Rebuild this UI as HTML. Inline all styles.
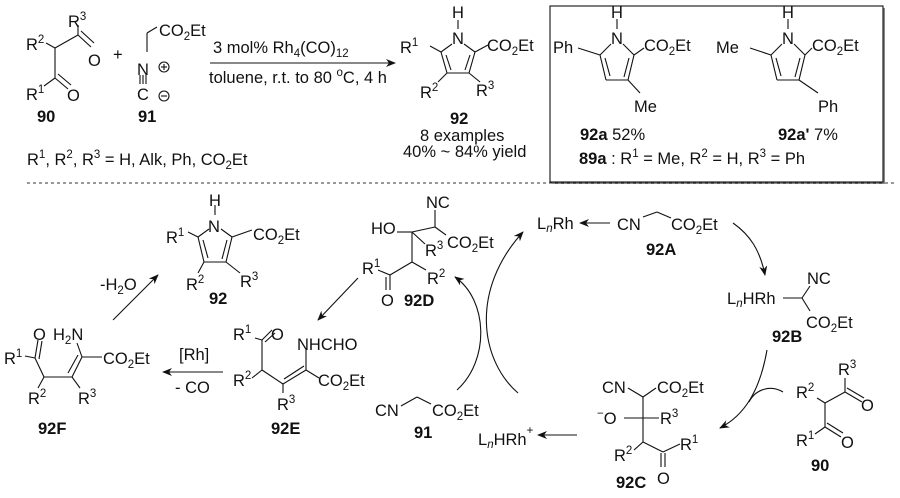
<!DOCTYPE html>
<html><head><meta charset="utf-8"><style>
html,body{margin:0;padding:0;background:#fff}
svg{display:block}
text{font-family:"Liberation Sans",Arial,sans-serif;font-size:16.5px;fill:#111}
.b{font-weight:bold}
.s{font-size:11.5px}
</style></head><body>
<svg width="900" height="498" viewBox="0 0 900 498" xmlns="http://www.w3.org/2000/svg">
<defs>
<marker id="ah" markerWidth="10" markerHeight="8" refX="9" refY="4" orient="auto" markerUnits="userSpaceOnUse">
<path d="M0,0 L10,4 L0,8 L3,4 z" fill="#111"/></marker>
</defs>
<g stroke="#111" stroke-width="1.1" fill="none">
<line x1="46" y1="43" x2="55" y2="48"/><line x1="55" y1="48" x2="78" y2="35"/><line x1="78" y1="35" x2="78" y2="25"/>
<line x1="78" y1="35" x2="91" y2="47"/><line x1="81" y1="31" x2="94" y2="43"/>
<line x1="55" y1="48" x2="55" y2="78"/><line x1="55" y1="78" x2="44" y2="86"/>
<line x1="55" y1="78" x2="68" y2="89"/><line x1="58" y1="74" x2="71" y2="85"/>
<line x1="147" y1="33" x2="157" y2="27"/><line x1="147" y1="33" x2="147" y2="52"/>
<line x1="143" y1="75" x2="143" y2="84"/><line x1="140" y1="75" x2="140" y2="84"/><line x1="146" y1="75" x2="146" y2="84"/>
<circle cx="164" cy="67" r="5"/><line x1="161" y1="67" x2="167" y2="67"/><line x1="164" y1="64" x2="164" y2="70"/>
<circle cx="164" cy="96" r="5"/><line x1="161" y1="96" x2="167" y2="96"/>
<line x1="210" y1="63" x2="395" y2="63" marker-end="url(#ah)"/>
<line x1="458" y1="20" x2="458" y2="29"/>
<line x1="452" y1="44" x2="441" y2="52"/><line x1="464" y1="44" x2="475" y2="52"/>
<line x1="441" y1="52" x2="447" y2="73"/><line x1="446" y1="55" x2="451" y2="70"/>
<line x1="447" y1="73" x2="469" y2="73"/><line x1="469" y1="73" x2="475" y2="52"/><line x1="465" y1="70" x2="470" y2="55"/>
<line x1="441" y1="52" x2="430" y2="46"/><line x1="475" y1="52" x2="488" y2="45"/>
<line x1="447" y1="73" x2="438" y2="82"/><line x1="469" y1="73" x2="480" y2="82"/>
<rect x="552" y="8" width="333" height="176" fill="#888" stroke="none"/>
<rect x="550" y="6" width="333" height="176" fill="#fff"/>
<line x1="617" y1="19" x2="617" y2="29"/>
<line x1="611" y1="44" x2="600" y2="55"/><line x1="623" y1="44" x2="634" y2="55"/>
<line x1="600" y1="55" x2="606" y2="80"/><line x1="605" y1="58" x2="610" y2="76"/>
<line x1="606" y1="80" x2="628" y2="80"/><line x1="628" y1="80" x2="634" y2="55"/><line x1="624" y1="77" x2="629" y2="58"/>
<line x1="600" y1="55" x2="578" y2="48"/><line x1="634" y1="55" x2="644" y2="48"/>
<line x1="628" y1="80" x2="640" y2="93"/>
<line x1="788" y1="19" x2="788" y2="29"/>
<line x1="782" y1="44" x2="771" y2="55"/><line x1="794" y1="44" x2="805" y2="55"/>
<line x1="771" y1="55" x2="777" y2="80"/><line x1="776" y1="58" x2="781" y2="76"/>
<line x1="777" y1="80" x2="799" y2="80"/><line x1="799" y1="80" x2="805" y2="55"/><line x1="795" y1="77" x2="800" y2="58"/>
<line x1="771" y1="55" x2="750" y2="48"/><line x1="805" y1="55" x2="812" y2="48"/>
<line x1="799" y1="80" x2="818" y2="93"/>
</g>
<line x1="27" y1="183" x2="895" y2="183" stroke="#333" stroke-width="1" stroke-dasharray="3,3"/>

<text x="68" y="27">R<tspan class="s" dy="-7">3</tspan></text>
<text x="26" y="50">R<tspan class="s" dy="-7">2</tspan></text>
<text x="88" y="66">O</text>
<text x="26" y="100">R<tspan class="s" dy="-7">1</tspan></text>
<text x="67" y="101">O</text>
<text x="113" y="60">+</text>
<text x="159" y="36">CO<tspan class="s" dy="4">2</tspan><tspan dy="-4">Et</tspan></text>
<text x="137" y="75">N</text>
<text x="137" y="100">C</text>
<text class="b" x="37" y="122">90</text>
<text class="b" x="138" y="122">91</text>
<text x="27" y="165">R<tspan class="s" dy="-7">1</tspan><tspan dy="7">, R</tspan><tspan class="s" dy="-7">2</tspan><tspan dy="7">, R</tspan><tspan class="s" dy="-7">3</tspan><tspan dy="7"> = H, Alk, Ph, CO</tspan><tspan class="s" dy="4">2</tspan><tspan dy="-4">Et</tspan></text>
<text x="213" y="53">3 mol% Rh<tspan class="s" dy="4">4</tspan><tspan dy="-4">(CO)</tspan><tspan class="s" dy="4">12</tspan></text>
<text x="209" y="83">toluene, r.t. to 80 <tspan class="s" dy="-7">o</tspan><tspan dy="7">C, 4 h</tspan></text>
<text x="452" y="18">H</text>
<text x="452" y="44">N</text>
<text x="400" y="53">R<tspan class="s" dy="-7">1</tspan></text>
<text x="487" y="51">CO<tspan class="s" dy="4">2</tspan><tspan dy="-4">Et</tspan></text>
<text x="420" y="98">R<tspan class="s" dy="-7">2</tspan></text>
<text x="476" y="96">R<tspan class="s" dy="-7">3</tspan></text>
<text class="b" x="450" y="124">92</text>
<text x="420" y="141">8 examples</text>
<text x="403" y="157">40% ~ 84% yield</text>
<text x="611" y="18">H</text>
<text x="611" y="44">N</text>
<text x="553" y="53">Ph</text>
<text x="644" y="51">CO<tspan class="s" dy="4">2</tspan><tspan dy="-4">Et</tspan></text>
<text x="634" y="112">Me</text>
<text x="580" y="140"><tspan class="b">92a</tspan>  52%</text>
<text x="782" y="18">H</text>
<text x="782" y="44">N</text>
<text x="716" y="53">Me</text>
<text x="812" y="51">CO<tspan class="s" dy="4">2</tspan><tspan dy="-4">Et</tspan></text>
<text x="818" y="112">Ph</text>
<text x="778" y="140"><tspan class="b">92a'</tspan>  7%</text>
<text x="579" y="164"><tspan class="b">89a</tspan> : R<tspan class="s" dy="-7">1</tspan><tspan dy="7"> = Me, R</tspan><tspan class="s" dy="-7">2</tspan><tspan dy="7"> = H, R</tspan><tspan class="s" dy="-7">3</tspan><tspan dy="7"> = Ph</tspan></text>

<g stroke="#111" stroke-width="1.1" fill="none">
<line x1="215" y1="205" x2="215" y2="215"/>
<line x1="209" y1="229" x2="198" y2="237"/><line x1="221" y1="229" x2="232" y2="237"/>
<line x1="198" y1="237" x2="204" y2="262"/><line x1="203" y1="240" x2="208" y2="258"/>
<line x1="204" y1="262" x2="226" y2="262"/><line x1="226" y1="262" x2="232" y2="237"/><line x1="222" y1="259" x2="227" y2="240"/>
<line x1="198" y1="237" x2="188" y2="232"/><line x1="232" y1="237" x2="252" y2="230"/>
<line x1="204" y1="262" x2="198" y2="273"/><line x1="226" y1="262" x2="240" y2="273"/>
<line x1="113" y1="320" x2="158" y2="275" marker-end="url(#ah)"/>
<line x1="25" y1="356" x2="35" y2="358"/>
<line x1="35" y1="358" x2="38" y2="340"/><line x1="39" y1="359" x2="42" y2="341"/>
<line x1="35" y1="358" x2="44" y2="377"/><line x1="44" y1="377" x2="72" y2="377"/>
<line x1="72" y1="377" x2="82" y2="357"/><line x1="68" y1="373" x2="78" y2="355"/>
<line x1="82" y1="357" x2="77" y2="343"/><line x1="82" y1="357" x2="102" y2="357"/>
<line x1="44" y1="377" x2="38" y2="388"/><line x1="72" y1="377" x2="80" y2="388"/>
<line x1="223" y1="372" x2="163" y2="372" marker-end="url(#ah)"/>
<line x1="262" y1="340" x2="255" y2="338"/><line x1="262" y1="340" x2="272" y2="330"/><line x1="265" y1="342" x2="275" y2="333"/>
<line x1="262" y1="340" x2="262" y2="370"/><line x1="262" y1="370" x2="252" y2="378"/>
<line x1="262" y1="370" x2="283" y2="384"/><line x1="283" y1="384" x2="306" y2="370"/><line x1="284" y1="379" x2="304" y2="366"/>
<line x1="306" y1="370" x2="306" y2="350"/><line x1="306" y1="370" x2="319" y2="378"/>
<line x1="283" y1="384" x2="283" y2="393"/>
<line x1="358" y1="278" x2="318" y2="320" marker-end="url(#ah)"/>
<line x1="397" y1="232" x2="412" y2="232"/><line x1="412" y1="232" x2="435" y2="227"/>
<line x1="435" y1="227" x2="435" y2="210"/><line x1="435" y1="227" x2="446" y2="235"/>
<line x1="412" y1="232" x2="425" y2="244"/>
<line x1="412" y1="232" x2="412" y2="262"/><line x1="412" y1="262" x2="426" y2="270"/>
<line x1="412" y1="262" x2="390" y2="275"/><line x1="390" y1="275" x2="378" y2="270"/>
<line x1="390" y1="275" x2="390" y2="290"/><line x1="386" y1="277" x2="386" y2="290"/>
<line x1="401" y1="406" x2="417" y2="397"/><line x1="417" y1="397" x2="431" y2="404"/>
<path d="M457,390 C490,360 488,300 455,277" marker-end="url(#ah)"/>
<path d="M518,393 C480,360 470,290 523,232" marker-end="url(#ah)"/>
<line x1="610" y1="223" x2="580" y2="223" marker-end="url(#ah)"/>
<line x1="643" y1="217" x2="657" y2="212"/><line x1="657" y1="212" x2="671" y2="218"/>
<path d="M733,223 C750,235 760,250 765,275" marker-end="url(#ah)"/>
<line x1="783" y1="298" x2="802" y2="298"/><line x1="802" y1="298" x2="810" y2="286"/><line x1="802" y1="298" x2="810" y2="311"/>
<path d="M767,350 C760,390 745,415 720,428" marker-end="url(#ah)"/>
<path d="M783,392 C770,384 755,390 749,402"/>
<line x1="817" y1="398" x2="825" y2="403"/><line x1="825" y1="403" x2="845" y2="392"/><line x1="845" y1="392" x2="845" y2="378"/>
<line x1="845" y1="392" x2="862" y2="402"/><line x1="847" y1="388" x2="864" y2="398"/>
<line x1="825" y1="403" x2="825" y2="427"/><line x1="825" y1="427" x2="815" y2="434"/>
<line x1="825" y1="427" x2="841" y2="437"/><line x1="827" y1="423" x2="843" y2="433"/>
<line x1="628" y1="388" x2="643" y2="397"/><line x1="643" y1="397" x2="656" y2="388"/>
<line x1="643" y1="397" x2="643" y2="442"/><line x1="624" y1="418" x2="659" y2="418"/>
<line x1="643" y1="442" x2="634" y2="450"/><line x1="643" y1="442" x2="663" y2="452"/>
<line x1="663" y1="452" x2="680" y2="444"/>
<line x1="661" y1="453" x2="661" y2="467"/><line x1="665" y1="453" x2="665" y2="467"/>
<line x1="577" y1="435" x2="538" y2="435" marker-end="url(#ah)"/>
</g>

<text x="209" y="206">H</text>
<text x="208" y="232">N</text>
<text x="166" y="243">R<tspan class="s" dy="-7">1</tspan></text>
<text x="253" y="240">CO<tspan class="s" dy="4">2</tspan><tspan dy="-4">Et</tspan></text>
<text x="186" y="290">R<tspan class="s" dy="-7">2</tspan></text>
<text x="240" y="287">R<tspan class="s" dy="-7">3</tspan></text>
<text class="b" x="209" y="304">92</text>
<text x="100" y="290">-H<tspan class="s" dy="4">2</tspan><tspan dy="-4">O</tspan></text>
<text x="33" y="340">O</text>
<text x="53" y="340">H<tspan class="s" dy="4">2</tspan><tspan dy="-4">N</tspan></text>
<text x="4" y="364">R<tspan class="s" dy="-7">1</tspan></text>
<text x="103" y="364">CO<tspan class="s" dy="4">2</tspan><tspan dy="-4">Et</tspan></text>
<text x="28" y="404">R<tspan class="s" dy="-7">2</tspan></text>
<text x="78" y="404">R<tspan class="s" dy="-7">3</tspan></text>
<text class="b" x="38" y="434">92F</text>
<text x="179" y="360">[Rh]</text>
<text x="175" y="393">- CO</text>
<text x="233" y="340">R<tspan class="s" dy="-7">1</tspan></text>
<text x="271" y="340">O</text>
<text x="297" y="350">NHCHO</text>
<text x="233" y="386">R<tspan class="s" dy="-7">2</tspan></text>
<text x="318" y="386">CO<tspan class="s" dy="4">2</tspan><tspan dy="-4">Et</tspan></text>
<text x="277" y="410">R<tspan class="s" dy="-7">3</tspan></text>
<text class="b" x="271" y="434">92E</text>
<text x="426" y="208">NC</text>
<text x="371" y="234">HO</text>
<text x="447" y="248">CO<tspan class="s" dy="4">2</tspan><tspan dy="-4">Et</tspan></text>
<text x="425" y="256">R<tspan class="s" dy="-7">3</tspan></text>
<text x="362" y="274">R<tspan class="s" dy="-7">1</tspan></text>
<text x="427" y="284">R<tspan class="s" dy="-7">2</tspan></text>
<text x="381" y="306">O</text>
<text class="b" x="404" y="306">92D</text>
<text x="375" y="416">CN</text>
<text x="432" y="416">CO<tspan class="s" dy="4">2</tspan><tspan dy="-4">Et</tspan></text>
<text class="b" x="414" y="438">91</text>
<text x="537" y="229">L<tspan class="s" dy="3" font-style="italic">n</tspan><tspan dy="-3">Rh</tspan></text>
<text x="617" y="230">CN</text>
<text x="671" y="230">CO<tspan class="s" dy="4">2</tspan><tspan dy="-4">Et</tspan></text>
<text class="b" x="646" y="255">92A</text>
<text x="807" y="284">NC</text>
<text x="727" y="304">L<tspan class="s" dy="3" font-style="italic">n</tspan><tspan dy="-3">HRh</tspan></text>
<text x="806" y="328">CO<tspan class="s" dy="4">2</tspan><tspan dy="-4">Et</tspan></text>
<text class="b" x="772" y="342">92B</text>
<text x="838" y="375">R<tspan class="s" dy="-7">3</tspan></text>
<text x="796" y="398">R<tspan class="s" dy="-7">2</tspan></text>
<text x="861" y="411">O</text>
<text x="796" y="446">R<tspan class="s" dy="-7">1</tspan></text>
<text x="841" y="448">O</text>
<text class="b" x="811" y="471">90</text>
<text x="602" y="393">CN</text>
<text x="657" y="393">CO<tspan class="s" dy="4">2</tspan><tspan dy="-4">Et</tspan></text>
<text x="597" y="424"><tspan class="s" dy="-7">−</tspan><tspan dy="7">O</tspan></text>
<text x="660" y="424">R<tspan class="s" dy="-7">3</tspan></text>
<text x="614" y="461">R<tspan class="s" dy="-7">2</tspan></text>
<text x="680" y="450">R<tspan class="s" dy="-7">1</tspan></text>
<text x="657" y="484">O</text>
<text class="b" x="616" y="488">92C</text>
<text x="478" y="445">L<tspan class="s" dy="3" font-style="italic">n</tspan><tspan dy="-3">HRh</tspan><tspan class="s" dy="-11">+</tspan></text>
</svg>
</body></html>
